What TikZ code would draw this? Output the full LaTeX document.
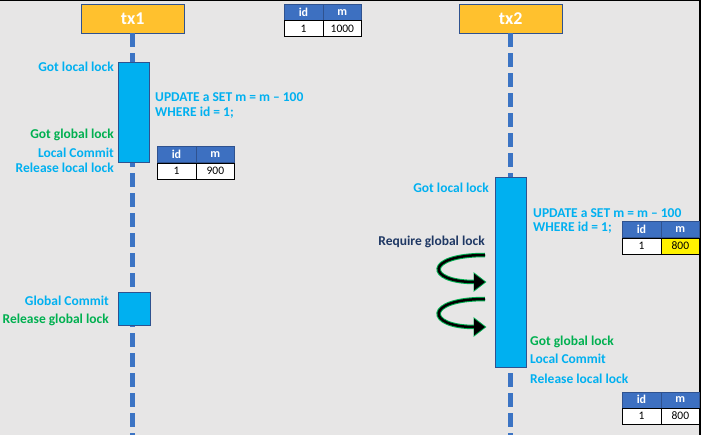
\documentclass[tikz,border=0pt]{standalone}
\usepackage{fontspec}
\setmainfont{Carlito}
\usetikzlibrary{positioning,arrows.meta}
\definecolor{bggray}{RGB}{231,230,230}
\definecolor{txorange}{RGB}{255,193,46}
\definecolor{boxblue}{RGB}{47,82,143}
\definecolor{lineblue}{RGB}{60,116,196}
\definecolor{actcyan}{RGB}{0,176,240}
\definecolor{lblgreen}{RGB}{0,176,80}
\definecolor{lblnavy}{RGB}{31,56,100}
\definecolor{hdrblue}{RGB}{61,112,193}
\newcommand{\widthhead}{103pt}
\newcommand{\widthcell}{38.5pt}
\newcommand{\heightcell}{16pt}
\tikzset{
    txhead/.style={anchor=north west, draw=boxblue, fill=txorange, text=white, inner sep=0pt,
        minimum width=\widthhead, minimum height=29pt, font=\bfseries\fontsize{18}{18}\selectfont},
    lifeline/.style={draw=lineblue, line width=5pt, dash pattern=on 14pt off 6pt},
    act/.style={anchor=north west, draw=boxblue, fill=actcyan, line width=0.8pt, inner sep=0pt},
    lbl/.style={inner sep=0pt, font=\bfseries\fontsize{13.5}{13.5}\selectfont},
    lleft/.style={lbl, anchor=base east},
    lright/.style={lbl, anchor=base west},
    cell/.style={draw, inner sep=0pt, minimum width=\widthcell, minimum height=\heightcell},
    hcell/.style={cell, anchor=north west, draw=boxblue, fill=hdrblue, text=white, font=\bfseries\fontsize{12}{12}\selectfont},
    dcell/.style={cell, draw=black, fill=white, font=\fontsize{11.5}{11.5}\selectfont},
    glow/.style={draw=lblgreen, line width=4.5pt, shorten >=-1.5pt, -{Triangle[length=13pt,width=19pt]}},
    core/.style={draw=black, line width=2.5pt, -{Triangle[length=11pt,width=16pt]}}
}

\begin{document}
\begin{tikzpicture}[x=1pt, y=-1pt]
    \fill[bggray] (0,0) rectangle (701,435);
    \useasboundingbox (0,0) rectangle (701,435);
    \draw[black, line width=1.5pt] (0,0.5) -- (700,0.5) -- (700,435);

    % the two transactions
    \node[txhead] (tx1) at (81,4) {tx1};
    \node[txhead] (tx2) at (459,4) {tx2};
    \coordinate (end1) at (tx1.south |- 0,435);
    \coordinate (end2) at (tx2.south |- 0,435);
    \draw[lifeline] (tx1.south) -- (end1);
    \draw[lifeline] (tx2.south) -- (end2);

    % row before
    \node[hcell] (t0id) at (284,4) {id};
    \node[hcell, right=0pt of t0id] (t0m) {m};
    \node[dcell, below=0pt of t0id] (t0a) {1};
    \node[dcell, below=0pt of t0m] (t0b) {1000};

    % tx1
    \node[act, minimum width=31pt, minimum height=100pt] (act1) at (117.5,62.5) {};
    \node[lleft, text=actcyan] (g1) at (114,72) {Got local lock};
    \node[lright, text=actcyan] (u1) at (155,102) {UPDATE a SET m = m -- 100};
    \node[lright, text=actcyan] (w1) at (155,117) {WHERE id = 1;};
    \node[lleft, text=lblgreen] (gg1) at (114,139) {Got global lock};
    \node[lleft, text=actcyan] (lc1) at (114,158) {Local Commit};
    \node[lleft, text=actcyan] (rl1) at (114,173) {Release local lock};

    \node[hcell] (t1id) at (157,146.5) {id};
    \node[hcell, right=0pt of t1id] (t1m) {m};
    \node[dcell, below=0pt of t1id] (t1a) {1};
    \node[dcell, below=0pt of t1m] (t1b) {900};

    \node[act, minimum width=32pt, minimum height=33pt] (act1b) at (117.5,292.5) {};
    \node[lleft, text=actcyan] (gc1) at (109,306) {Global Commit};
    \node[lleft, text=lblgreen] (rg1) at (109,324) {Release global lock};

    % tx2
    \node[act, minimum width=31pt, minimum height=189pt] (act2) at (495,177.5) {};
    \node[lleft, text=actcyan] (g2) at (489,193) {Got local lock};
    \node[lright, text=actcyan] (u2) at (533,218) {UPDATE a SET m = m -- 100};
    \node[lright, text=actcyan] (w2) at (533,232) {WHERE id = 1;};
    \node[lleft, text=lblnavy] (rq2) at (485,246) {Require global lock};

    \node[hcell] (t2id) at (622,221.5) {id};
    \node[hcell, right=0pt of t2id] (t2m) {m};
    \node[dcell, below=0pt of t2id] (t2a) {1};
    \node[dcell, below=0pt of t2m, fill=yellow] (t2b) {800};

    \coordinate (s1) at (485,255);
    \coordinate (e1) at (485,282);
    \coordinate (s2) at (485,299);
    \coordinate (e2) at (485,327);
    \draw[glow] (s1) .. controls (424,255) and (426,282) .. (e1);
    \draw[core] (s1) .. controls (424,255) and (426,282) .. (e1);
    \draw[glow] (s2) .. controls (424,299) and (426,327) .. (e2);
    \draw[core] (s2) .. controls (424,299) and (426,327) .. (e2);

    \node[lright, text=lblgreen] (gg2) at (530,345) {Got global lock};
    \node[lright, text=actcyan] (lc2) at (530,363) {Local Commit};
    \node[lright, text=actcyan] (rl2) at (530,383) {Release local lock};

    \node[hcell] (t3id) at (622,391.5) {id};
    \node[hcell, right=0pt of t3id] (t3m) {m};
    \node[dcell, below=0pt of t3id] (t3a) {1};
    \node[dcell, below=0pt of t3m] (t3b) {800};
\end{tikzpicture}
\end{document}
